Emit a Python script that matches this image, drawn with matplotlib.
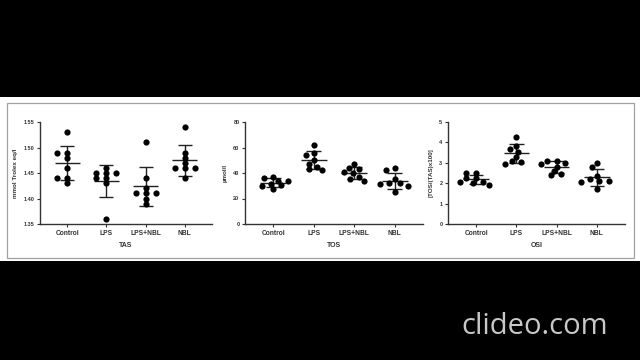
import matplotlib

matplotlib.use("Agg")
import matplotlib.pyplot as plt
import numpy as np
from matplotlib.patches import Rectangle

plt.rcParams["font.family"] = ["Liberation Sans", "DejaVu Sans"]

groups = ["Control", "LPS", "LPS+NBL", "NBL"]

tas = {
    "Control": [1.53, 1.49, 1.49, 1.48, 1.46, 1.44, 1.44, 1.43],
    "LPS": [1.46, 1.45, 1.45, 1.45, 1.44, 1.44, 1.43, 1.36],
    "LPS+NBL": [1.51, 1.44, 1.42, 1.41, 1.41, 1.41, 1.40, 1.39],
    "NBL": [1.54, 1.49, 1.48, 1.47, 1.46, 1.46, 1.46, 1.44],
}
tos = {
    "Control": [37.1, 35.8, 34.0, 34.0, 31.4, 30.3, 29.8, 27.2],
    "LPS": [62.0, 56.0, 54.0, 50.0, 47.0, 45.0, 43.0, 42.0],
    "LPS+NBL": [47.0, 44.0, 43.0, 41.0, 40.0, 37.0, 35.0, 34.0],
    "NBL": [44.0, 42.0, 35.0, 32.0, 32.0, 31.0, 30.0, 25.0],
}
osi = {
    "Control": [2.52, 2.52, 2.24, 2.24, 2.07, 2.07, 1.99, 1.91],
    "LPS": [4.28, 3.84, 3.68, 3.55, 3.30, 3.10, 3.02, 2.94],
    "LPS+NBL": [3.10, 3.10, 2.97, 2.92, 2.81, 2.60, 2.45, 2.38],
    "NBL": [3.00, 2.81, 2.35, 2.20, 2.12, 2.12, 2.07, 1.72],
}

panels = [
    (tas, "mmol Trolex eq/l", "TAS", (1.35, 1.55), [1.35, 1.40, 1.45, 1.50, 1.55], "%.2f"),
    (tos, "µmol/l", "TOS", (0, 80), [0, 20, 40, 60, 80], "%d"),
    (osi, "[TOS/(TAS)x100]", "OSI", (0, 5), [0, 1, 2, 3, 4, 5], "%d"),
]

# axes boxes in pixels: left, right
boxes = [(40, 212), (245, 423), (448, 625)]
ax_top, ax_bot = 122, 224
W, H = 640, 360
XLIM = (-0.7, 3.7)


def swarm(vals, ypx, xpx, a=10.0, b=4.5):
    """beeswarm with an elliptical gap: a px sideways, b px up/down"""
    placed = []
    out = []
    for v in vals:
        y = v * ypx
        cands = [0.0]
        for px, py in placed:
            dy = abs(y - py)
            if dy < b:
                dx = a * np.sqrt(1 - (dy / b) ** 2)
                cands += [px - dx, px + dx]
        cands.sort(key=lambda c: (round(abs(c), 6), c))
        for c in cands:
            if all(((c - px) / a) ** 2 + ((y - py) / b) ** 2 >= 1 - 1e-6 for px, py in placed):
                placed.append((c, y))
                out.append(c / xpx)
                break
    return np.array(out)


fig = plt.figure(figsize=(6.4, 3.6), dpi=100, facecolor="black")

# white video frame with thin grey border
bg = fig.add_axes([0, 0, 1, 1], zorder=-1)
bg.set_xlim(0, W)
bg.set_ylim(H, 0)
bg.axis("off")
bg.add_patch(Rectangle((0, 97), W, 164, facecolor="white", edgecolor="none"))
bg.add_patch(Rectangle((7, 103), 627, 155, facecolor="none", edgecolor="#a0a0a0", lw=0.9))

for (data, ylab, title, ylim, yticks, fmt), (x0, x1) in zip(panels, boxes):
    ax = fig.add_axes([x0 / W, (H - ax_bot) / H, (x1 - x0) / W, (ax_bot - ax_top) / H])
    ax.set_facecolor("white")
    ypx = (ax_bot - ax_top) / (ylim[1] - ylim[0])
    xpx = (x1 - x0) / (XLIM[1] - XLIM[0])
    for i, g in enumerate(groups):
        vals = np.array(data[g])
        xs = swarm(vals, ypx, xpx)
        ax.scatter(i + xs, vals, s=20, color="black", zorder=3, linewidths=0, clip_on=False)
        m, sd = vals.mean(), vals.std(ddof=1)
        ax.hlines(m, i - 0.32, i + 0.32, color="#222222", lw=1.0)
        ax.vlines(i, m - sd, m + sd, color="#222222", lw=1.0)
        ax.hlines([m - sd, m + sd], i - 0.18, i + 0.18, color="#222222", lw=1.0)
    ax.set_ylim(*ylim)
    ax.set_xlim(*XLIM)
    ax.set_yticks(yticks)
    ax.set_yticklabels([fmt % t for t in yticks])
    ax.set_xticks(range(len(groups)))
    ax.set_xticklabels(groups)
    for s in ["top", "right"]:
        ax.spines[s].set_visible(False)
    for s in ["left", "bottom"]:
        ax.spines[s].set_linewidth(1.0)
        ax.spines[s].set_color("#333333")
    ax.tick_params(axis="y", length=2.5, width=0.8, pad=1.5, labelsize=4, colors="#333333")
    ax.tick_params(axis="x", length=2, width=0.8, pad=2, labelsize=4.8, colors="#333333")
    for lbl in ax.get_xticklabels() + ax.get_yticklabels():
        lbl.set_fontweight("bold")
    ax.set_xlabel(title, fontsize=5, fontweight="bold", color="#333333", labelpad=4)
    ax.set_ylabel(ylab, fontsize=4.5, fontweight="bold", color="#333333", labelpad=4)

fig.text(535 / W, (H - 326) / H, "clideo.com", color="#c8c8c8", fontsize=21,
         family=["Open Sans", "DejaVu Sans"], ha="center", va="center")

fig.savefig("out.png", dpi=100, facecolor="black")
